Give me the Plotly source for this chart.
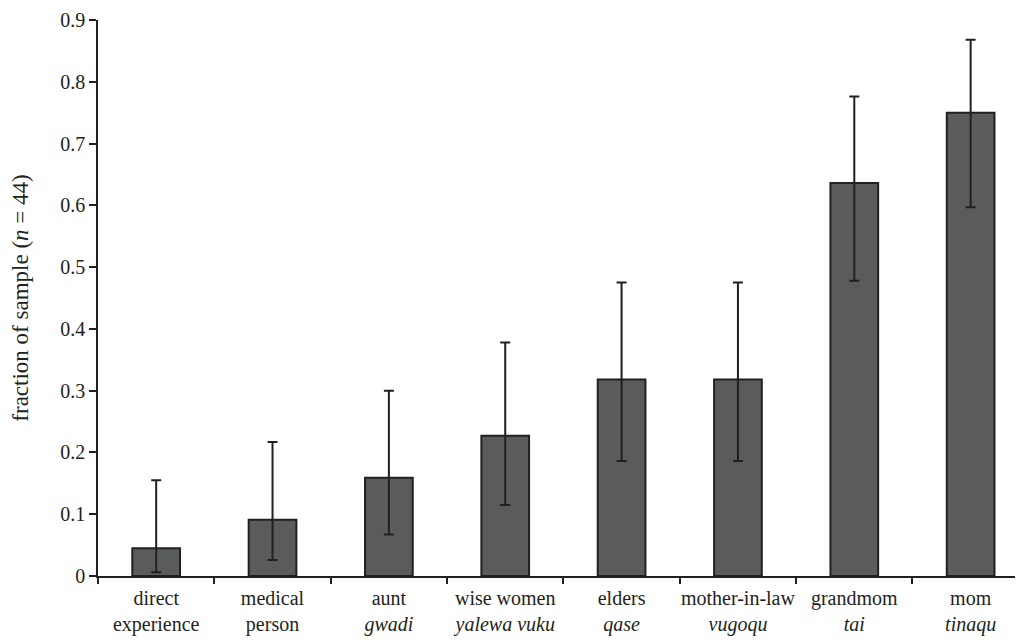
import plotly.graph_objects as go

categories = ["direct<br>experience", "medical<br>person", "aunt<br><i>gwadi</i>",
              "wise women<br><i>yalewa vuku</i>", "elders<br><i>qase</i>",
              "mother-in-law<br><i>vugoqu</i>", "grandmom<br><i>tai</i>", "mom<br><i>tinaqu</i>"]
values = [0.045, 0.091, 0.159, 0.227, 0.318, 0.318, 0.636, 0.750]
err_upper = [0.155, 0.217, 0.300, 0.378, 0.475, 0.475, 0.776, 0.868]
err_lower = [0.006, 0.026, 0.067, 0.115, 0.186, 0.186, 0.478, 0.597]
y_ticks = [0, 0.1, 0.2, 0.3, 0.4, 0.5, 0.6, 0.7, 0.8, 0.9]
y_ticktext = ["0", "0.1", "0.2", "0.3", "0.4", "0.5", "0.6", "0.7", "0.8", "0.9"]

plus = [u - v for u, v in zip(err_upper, values)]
minus = [v - l for v, l in zip(values, err_lower)]

dark = "#231f20"
font = "Liberation Serif, Times New Roman, serif"

fig = go.Figure()
fig.add_trace(go.Bar(
    x=categories, y=values,
    width=0.41,
    marker=dict(color="#5a5b5d", line=dict(color=dark, width=2)),
    error_y=dict(type="data", symmetric=False, array=plus, arrayminus=minus,
                 color=dark, thickness=2, width=5),
))

fig.update_layout(
    width=1015, height=634,
    margin=dict(l=90, r=0, t=12, b=66),
    plot_bgcolor="white", paper_bgcolor="white",
    showlegend=False,
    font=dict(family=font, size=20, color=dark),
    xaxis=dict(
        type="category", range=[-0.5, 7.45], automargin=False, tickangle=0,
        showline=True, linecolor=dark, linewidth=1.5,
        ticks="outside", tickson="boundaries", ticklen=6, tickwidth=1.5, tickcolor=dark,
        ticklabelstandoff=3,
        showgrid=False, tickfont=dict(family=font, size=20, color=dark),
    ),
    yaxis=dict(
        range=[0, 0.9], tickvals=y_ticks, ticktext=y_ticktext, automargin=False,
        showline=True, linecolor=dark, linewidth=1.5,
        ticks="outside", ticklen=7, tickwidth=1.5, tickcolor=dark,
        showgrid=False, zeroline=False,
        tickfont=dict(family=font, size=20, color=dark),
        title=dict(text="fraction of sample (<i>n</i> = 44)",
                   font=dict(family=font, size=23, color=dark), standoff=25),
    ),
)

fig.write_html("out.html")
